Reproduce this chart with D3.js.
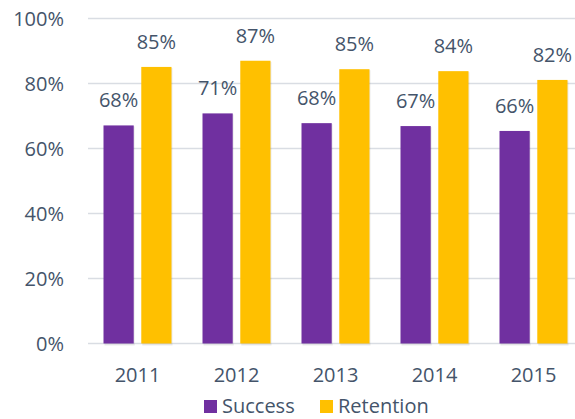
<!DOCTYPE html>
<html><head><meta charset="utf-8">
<script src="https://cdn.jsdelivr.net/npm/d3@7"></script>
<style>body{margin:0;background:#fff}svg{display:block}</style>
</head><body>
<script>
const categories = ["2011","2012","2013","2014","2015"];
const successValues = [67.1, 70.8, 67.8, 66.9, 65.4];
const retentionValues = [85.1, 87.0, 84.4, 83.8, 81.1];
const successLabels = ["68%","71%","68%","67%","66%"];
const retentionLabels = ["85%","87%","85%","84%","82%"];
const yTicks = [0, 20, 40, 60, 80, 100];
const seriesNames = ["Success", "Retention"];
const colors = ["#7030a0", "#ffc000"];

const W = 575, H = 419;
const font = "'Open Sans', sans-serif";
const fs = "20px";
const textColor = "#44546a";
const svg = d3.select("body").append("svg").attr("width", W).attr("height", H);

const x = d3.scaleBand().domain(categories).range([88, 583]).paddingInner(0).paddingOuter(0);
const inner = d3.scaleBand().domain(seriesNames).range([15.5, 99 - 15.5]).paddingInner(0.2);
const y = d3.scaleLinear().domain([0, 100]).range([343.5, 18.5]);

const yAxis = d3.axisLeft(y).tickValues(yTicks).tickFormat(d => d + "%").tickSize(0).tickPadding(24);
const gy = svg.append("g").attr("transform", "translate(88,0)").call(yAxis);
gy.select(".domain").remove();
gy.selectAll("text").attr("font-family", font).attr("font-size", fs).attr("fill", textColor).attr("dy", "0.36em");
svg.append("g").selectAll("line").data(yTicks).join("line")
  .attr("x1", 88).attr("x2", 583)
  .attr("y1", d => y(d)).attr("y2", d => y(d))
  .attr("stroke", "#d9dde3").attr("stroke-width", 1.5);

const data = categories.map((c, i) => ({
  cat: c,
  vals: [
    {s: seriesNames[0], v: successValues[i], l: successLabels[i], c: colors[0]},
    {s: seriesNames[1], v: retentionValues[i], l: retentionLabels[i], c: colors[1]}
  ]
}));

const groups = svg.append("g").selectAll("g").data(data).join("g")
  .attr("transform", d => `translate(${x(d.cat)},0)`);
groups.selectAll("rect.shadow").data(d => d.vals).join("rect").attr("class","shadow")
  .attr("x", d => inner(d.s) + 1).attr("width", inner.bandwidth())
  .attr("y", d => y(d.v) + 1).attr("height", d => y(0) - y(d.v) + 1)
  .attr("fill", "#000").attr("opacity", 0.08);
groups.selectAll("rect.bar").data(d => d.vals).join("rect").attr("class","bar")
  .attr("x", d => inner(d.s)).attr("width", inner.bandwidth())
  .attr("y", d => y(d.v)).attr("height", d => y(0) - y(d.v))
  .attr("fill", d => d.c);
groups.selectAll("text").data(d => d.vals).join("text")
  .attr("x", d => inner(d.s) + inner.bandwidth() / 2)
  .attr("y", d => y(d.v) - 18)
  .attr("text-anchor", "middle")
  .attr("font-family", font).attr("font-size", fs).attr("fill", textColor)
  .text(d => d.l);

const xAxis = d3.axisBottom(x).tickSize(0).tickPadding(0);
const gx = svg.append("g").attr("transform", "translate(0,343.5)").call(xAxis);
gx.select(".domain").remove();
gx.selectAll("text").attr("font-family", font).attr("font-size", fs).attr("fill", textColor)
  .attr("dy", null).attr("y", 38.5);

const legendX = [204, 320];
const leg = svg.append("g").selectAll("g").data(seriesNames).join("g")
  .attr("transform", (d, i) => `translate(${legendX[i]},400)`);
leg.append("rect").attr("width", 13).attr("height", 13).attr("fill", (d, i) => colors[i]);
leg.append("text").attr("x", 18).attr("y", 13).attr("font-family", font).attr("font-size", fs)
  .attr("fill", textColor).text(d => d);
</script>
</body></html>
